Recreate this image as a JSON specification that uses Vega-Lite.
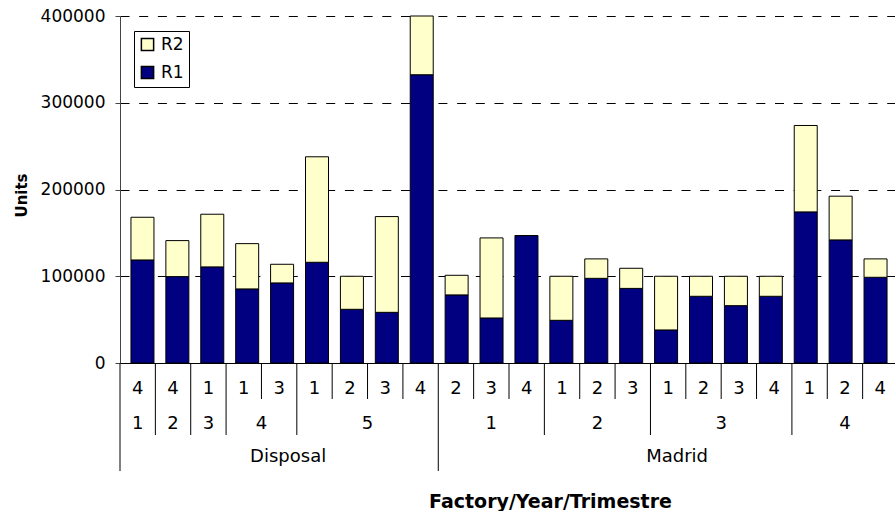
{
  "$schema": "https://vega.github.io/schema/vega-lite/v6.json",
  "padding": {"left": 14, "top": 7, "right": 0, "bottom": 0},
  "spacing": 0,
  "bounds": "flush",
  "config": {
    "view": {"stroke": null},
    "font": "DejaVu Sans",
    "text": {"color": "black", "font": "DejaVu Sans"}
  },
  "datasets": {
    "units": [
      {"Factory": "Disposal", "Year": 1, "Trimestre": 4, "R1": 118800, "R2": 49200},
      {"Factory": "Disposal", "Year": 2, "Trimestre": 4, "R1": 99600, "R2": 41500},
      {"Factory": "Disposal", "Year": 3, "Trimestre": 1, "R1": 110800, "R2": 60700},
      {"Factory": "Disposal", "Year": 4, "Trimestre": 1, "R1": 85400, "R2": 52200},
      {"Factory": "Disposal", "Year": 4, "Trimestre": 3, "R1": 92300, "R2": 21500},
      {"Factory": "Disposal", "Year": 5, "Trimestre": 1, "R1": 116100, "R2": 121600},
      {"Factory": "Disposal", "Year": 5, "Trimestre": 2, "R1": 61900, "R2": 38100},
      {"Factory": "Disposal", "Year": 5, "Trimestre": 3, "R1": 58400, "R2": 110400},
      {"Factory": "Disposal", "Year": 5, "Trimestre": 4, "R1": 332300, "R2": 67700},
      {"Factory": "Madrid", "Year": 1, "Trimestre": 2, "R1": 78500, "R2": 22600},
      {"Factory": "Madrid", "Year": 1, "Trimestre": 3, "R1": 51900, "R2": 92300},
      {"Factory": "Madrid", "Year": 1, "Trimestre": 4, "R1": 146900, "R2": 0},
      {"Factory": "Madrid", "Year": 2, "Trimestre": 1, "R1": 49200, "R2": 50800},
      {"Factory": "Madrid", "Year": 2, "Trimestre": 2, "R1": 97600, "R2": 22400},
      {"Factory": "Madrid", "Year": 2, "Trimestre": 3, "R1": 86000, "R2": 23200},
      {"Factory": "Madrid", "Year": 3, "Trimestre": 1, "R1": 38100, "R2": 61900},
      {"Factory": "Madrid", "Year": 3, "Trimestre": 2, "R1": 76900, "R2": 23100},
      {"Factory": "Madrid", "Year": 3, "Trimestre": 3, "R1": 66100, "R2": 33900},
      {"Factory": "Madrid", "Year": 3, "Trimestre": 4, "R1": 76900, "R2": 23100},
      {"Factory": "Madrid", "Year": 4, "Trimestre": 1, "R1": 174200, "R2": 99600},
      {"Factory": "Madrid", "Year": 4, "Trimestre": 2, "R1": 141900, "R2": 50400},
      {"Factory": "Madrid", "Year": 4, "Trimestre": 4, "R1": 98800, "R2": 21200}
    ]
  },
  "vconcat": [
    {
      "width": 778,
      "height": 347,
      "data": {"name": "units"},
      "transform": [
        {"window": [{"op": "row_number", "as": "pos"}]},
        {"fold": ["R1", "R2"], "as": ["Series", "Units"]}
      ],
      "mark": {"type": "bar", "width": 23, "stroke": "black", "strokeWidth": 1},
      "encoding": {
        "x": {
          "field": "pos",
          "type": "quantitative",
          "scale": {"domain": [0.5, 22.5], "nice": false, "zero": false},
          "axis": {"title": null, "labels": false, "ticks": false, "grid": false, "domain": true, "domainColor": "black", "domainWidth": 1}
        },
        "y": {
          "field": "Units",
          "type": "quantitative",
          "stack": "zero",
          "scale": {"domain": [0, 400000], "nice": false},
          "axis": {
            "values": [0, 100000, 200000, 300000, 400000],
            "format": "d",
            "grid": true,
            "gridColor": "black",
            "gridOpacity": 1,
            "gridDash": [9, 9.7],
            "domainColor": "#444",
            "tickColor": "#444",
            "tickSize": 5,
            "labelFontSize": 17,
            "labelColor": "black",
            "labelPadding": 10,
            "title": "Units",
            "titleFontSize": 15,
            "titleFontWeight": "bold",
            "titleColor": "black",
            "titleX": -94,
            "titleY": 179,
            "titleAngle": 270,
            "titleAlign": "center",
            "titleBaseline": "alphabetic"
          }
        },
        "color": {
          "field": "Series",
          "type": "nominal",
          "scale": {"domain": ["R2", "R1"], "range": ["#FFFFCC", "#000080"]},
          "legend": {
            "title": null,
            "orient": "none",
            "legendX": 14,
            "legendY": 15,
            "strokeColor": "black",
            "fillColor": "white",
            "padding": 5,
            "symbolType": "square",
            "symbolSize": 150,
            "symbolStrokeColor": "black",
            "symbolStrokeWidth": 1.5,
            "symbolOpacity": 1,
            "labelFontSize": 17,
            "labelColor": "black",
            "labelOffset": 5,
            "rowPadding": 9
          }
        },
        "order": {"field": "Series", "type": "nominal", "sort": "ascending"}
      }
    },
    {
      "width": 778,
      "height": 108,
      "data": {"name": "units"},
      "transform": [{"window": [{"op": "row_number", "as": "slot"}]}],
      "layer": [
        {
          "transform": [
            {"window": [
              {"op": "lag", "field": "Factory", "as": "prevFactory"},
              {"op": "lag", "field": "Year", "as": "prevYear"}
            ]},
            {"calculate": "datum.slot - 0.5", "as": "pos"},
            {"calculate": "datum.prevFactory !== datum.Factory ? 3 : (datum.prevYear !== datum.Year ? 2 : 1)", "as": "depth"},
            {"calculate": "0", "as": "top"}
          ],
          "mark": {"type": "rule", "color": "black", "strokeWidth": 1},
          "encoding": {
            "x": {
              "field": "pos",
              "type": "quantitative",
              "scale": {"domain": [0.5, 22.5], "nice": false, "zero": false},
              "axis": {
                "title": "Factory/Year/Trimestre",
                "labels": false,
                "ticks": false,
                "domain": false,
                "grid": false,
                "titleFontSize": 19,
                "titleFontWeight": "bold",
                "titleColor": "black",
                "titleX": 430,
                "titleY": 36,
                "titleAlign": "center",
                "titleBaseline": "alphabetic"
              }
            },
            "y": {"field": "top", "type": "quantitative", "scale": {"domain": [0, 3], "reverse": true, "nice": false}, "axis": null},
            "y2": {"field": "depth"}
          }
        },
        {
          "transform": [{"calculate": "datum.slot", "as": "pos"}, {"calculate": "1", "as": "row"}],
          "mark": {"type": "text", "fontSize": 18, "dy": -10},
          "encoding": {
            "x": {"field": "pos", "type": "quantitative"},
            "y": {"field": "row", "type": "quantitative"},
            "text": {"field": "Trimestre", "type": "nominal"}
          }
        },
        {
          "transform": [
            {"aggregate": [{"op": "min", "field": "slot", "as": "first"}, {"op": "max", "field": "slot", "as": "last"}], "groupby": ["Factory", "Year"]},
            {"calculate": "(datum.first + datum.last) / 2", "as": "pos"},
            {"calculate": "2", "as": "row"}
          ],
          "mark": {"type": "text", "fontSize": 18, "dy": -11},
          "encoding": {
            "x": {"field": "pos", "type": "quantitative"},
            "y": {"field": "row", "type": "quantitative"},
            "text": {"field": "Year", "type": "nominal"}
          }
        },
        {
          "transform": [
            {"aggregate": [{"op": "min", "field": "slot", "as": "first"}, {"op": "max", "field": "slot", "as": "last"}], "groupby": ["Factory"]},
            {"calculate": "(datum.first + datum.last) / 2", "as": "pos"},
            {"calculate": "3", "as": "row"}
          ],
          "mark": {"type": "text", "fontSize": 18, "dy": -14, "dx": 9},
          "encoding": {
            "x": {"field": "pos", "type": "quantitative"},
            "y": {"field": "row", "type": "quantitative"},
            "text": {"field": "Factory", "type": "nominal"}
          }
        }
      ]
    }
  ]
}
